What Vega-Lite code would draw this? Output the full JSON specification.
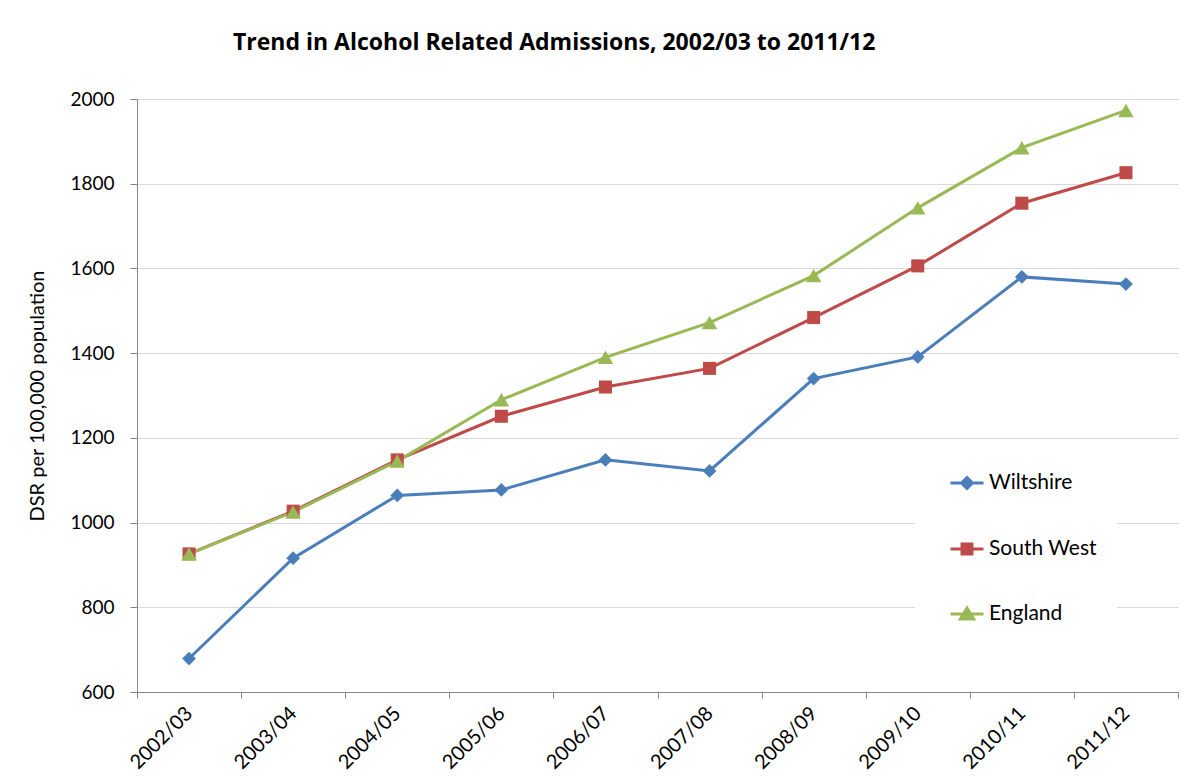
{
  "$schema": "https://vega.github.io/schema/vega-lite/v6.json",
  "autosize": {"type": "none"},
  "width": 1041,
  "height": 593,
  "padding": {"left": 137, "top": 99, "right": 13, "bottom": 92},
  "background": "white",
  "config": {
    "font": "Lato",
    "view": {"stroke": null},
    "axis": {"labelFont": "Lato", "titleFont": "Lato", "labelColor": "#000000", "titleColor": "#000000"}
  },
  "title": {
    "text": "Trend in Alcohol Related Admissions, 2002/03 to 2011/12",
    "anchor": "start",
    "frame": "group",
    "dx": 96,
    "offset": 35,
    "font": "Open Sans",
    "fontSize": 23,
    "fontWeight": "bold",
    "color": "#000000"
  },
  "data": {
    "values": [
      {"year": "2002/03", "area": "Wiltshire", "dsr": 679},
      {"year": "2003/04", "area": "Wiltshire", "dsr": 916},
      {"year": "2004/05", "area": "Wiltshire", "dsr": 1064},
      {"year": "2005/06", "area": "Wiltshire", "dsr": 1077},
      {"year": "2006/07", "area": "Wiltshire", "dsr": 1148},
      {"year": "2007/08", "area": "Wiltshire", "dsr": 1122},
      {"year": "2008/09", "area": "Wiltshire", "dsr": 1340},
      {"year": "2009/10", "area": "Wiltshire", "dsr": 1391},
      {"year": "2010/11", "area": "Wiltshire", "dsr": 1580},
      {"year": "2011/12", "area": "Wiltshire", "dsr": 1563},
      {"year": "2002/03", "area": "South West", "dsr": 926},
      {"year": "2003/04", "area": "South West", "dsr": 1027},
      {"year": "2004/05", "area": "South West", "dsr": 1148},
      {"year": "2005/06", "area": "South West", "dsr": 1251},
      {"year": "2006/07", "area": "South West", "dsr": 1320},
      {"year": "2007/08", "area": "South West", "dsr": 1364},
      {"year": "2008/09", "area": "South West", "dsr": 1484},
      {"year": "2009/10", "area": "South West", "dsr": 1606},
      {"year": "2010/11", "area": "South West", "dsr": 1754},
      {"year": "2011/12", "area": "South West", "dsr": 1826},
      {"year": "2002/03", "area": "England", "dsr": 926},
      {"year": "2003/04", "area": "England", "dsr": 1025},
      {"year": "2004/05", "area": "England", "dsr": 1145},
      {"year": "2005/06", "area": "England", "dsr": 1290},
      {"year": "2006/07", "area": "England", "dsr": 1390},
      {"year": "2007/08", "area": "England", "dsr": 1472},
      {"year": "2008/09", "area": "England", "dsr": 1583},
      {"year": "2009/10", "area": "England", "dsr": 1743},
      {"year": "2010/11", "area": "England", "dsr": 1885},
      {"year": "2011/12", "area": "England", "dsr": 1973}
    ]
  },
  "encoding": {
    "x": {
      "field": "year",
      "type": "ordinal",
      "sort": null,
      "scale": {"type": "band", "paddingInner": 0, "paddingOuter": 0},
      "axis": {
        "title": null,
        "labelAngle": -45,
        "labelAlign": "right",
        "labelBaseline": "middle",
        "labelFontSize": 20,
        "labelPadding": 12,
        "tickBand": "extent",
        "tickSize": 6,
        "tickColor": "#868686",
        "domainColor": "#868686",
        "domainWidth": 1,
        "grid": false
      }
    },
    "y": {
      "field": "dsr",
      "type": "quantitative",
      "scale": {"domain": [600, 2000], "nice": false, "zero": false},
      "axis": {
        "title": "DSR per 100,000 population",
        "titleFontSize": 20,
        "titleFontWeight": "normal",
        "titlePadding": 22,
        "format": "d",
        "values": [600, 800, 1000, 1200, 1400, 1600, 1800, 2000],
        "labelFontSize": 19,
        "labelPadding": 16,
        "tickSize": 7,
        "tickColor": "#868686",
        "domainColor": "#868686",
        "grid": true,
        "gridColor": "#D9D9D9",
        "gridWidth": 1
      }
    },
    "color": {
      "field": "area",
      "type": "nominal",
      "scale": {
        "domain": ["Wiltshire", "South West", "England"],
        "range": ["#4A7EBB", "#BE4B48", "#98B954"]
      },
      "legend": {
        "title": null,
        "orient": "none",
        "legendX": 778,
        "legendY": 346,
        "padding": 20,
        "fillColor": "white",
        "symbolOffset": 14,
        "symbolSize": 1089,
        "symbolStrokeWidth": 3,
        "labelFontSize": 21,
        "labelFont": "Lato",
        "labelColor": "#000000",
        "labelOffset": 4,
        "rowPadding": 36,
        "encode": {
          "symbols": {
            "update": {
              "shape": {"signal": "datum.value === 'Wiltshire' ? 'M-1,0H1M0,-0.33L0.33,0L0,0.33L-0.33,0Z' : datum.value === 'South West' ? 'M-1,0H1M-0.3,-0.3H0.3V0.3H-0.3Z' : 'M-1,0H1M0,-0.36L0.4,0.3L-0.4,0.3Z'"},
              "size": {"value": 1089},
              "fill": {"scale": "color", "field": "value"},
              "stroke": {"scale": "color", "field": "value"},
              "strokeWidth": {"value": 3},
              "opacity": {"value": 1}
            }
          }
        }
      }
    }
  },
  "layer": [
    {
      "mark": {"type": "line", "strokeWidth": 3}
    },
    {
      "transform": [{"filter": "datum.area === 'Wiltshire'"}],
      "mark": {"type": "point", "filled": true, "opacity": 1, "shape": "diamond", "size": 190}
    },
    {
      "transform": [{"filter": "datum.area === 'South West'"}],
      "mark": {"type": "point", "filled": true, "opacity": 1, "shape": "square", "size": 170}
    },
    {
      "transform": [{"filter": "datum.area === 'England'"}],
      "mark": {"type": "point", "filled": true, "opacity": 1, "shape": "triangle-up", "size": 240}
    }
  ]
}
